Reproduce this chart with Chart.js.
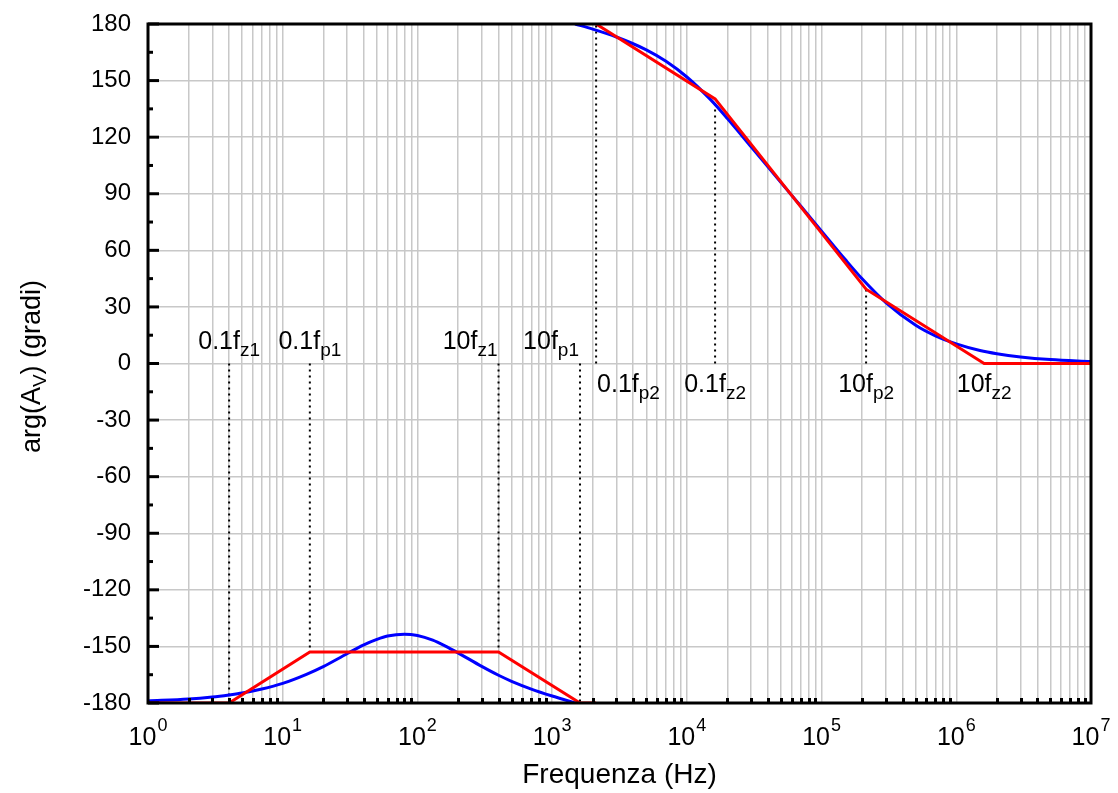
<!DOCTYPE html>
<html><head><meta charset="utf-8">
<script src="https://cdn.jsdelivr.net/npm/chart.js@4/dist/chart.umd.min.js"></script>
<style>html,body{margin:0;padding:0;background:#fff}</style>
</head><body>
<canvas id="c" width="1118" height="793"></canvas>
<script>
// ---- data ----
const freqLow   = [1,2,3,4,5,7,10,15,20,30,40,50,60,80,100,130,160,200,300,400,500,700,1000,1200,1480];
const phaseLow  = [-178.9,-177.9,-176.8,-175.7,-174.7,-172.6,-169.6,-164.8,-160.7,-153.9,-149.2,-146.3,-144.5,-143.5,-144.2,-146.7,-149.7,-153.4,-160.6,-165.3,-168.5,-172.6,-176.3,-178.0,-180.0];
const freqHigh  = [1480,2000,3000,5000,7000,1e4,1.5e4,2e4,3e4,5e4,7e4,1e5,1.5e5,2e5,3e5,5e5,7e5,1e6,1.5e6,2e6,3e6,5e6,1e7];
const phaseHigh = [180,177.3,173.1,166.3,160.2,151.9,139.9,129.9,114.9,95.9,83.5,70.2,55.1,44.9,32.3,20.3,14.7,10.4,6.9,5.2,3.5,2.1,1.0];
const asymLowFreq   = [1,4,15.9,400,1610,2120];
const asymLowPhase  = [-180,-180,-153,-153,-180,-180];
const asymHighFreq  = [2120,16200,214000,1610000,1e7];
const asymHighPhase = [180,140.3,39.4,0,0];
const markerFreq  = [4,15.9,400,1610,2120,16200,214000,1610000];
const markerEnd   = [-180,-153,-153,-180,180,140.3,39.4,0];
const markerMain  = ['0.1f','0.1f','10f','10f','0.1f','0.1f','10f','10f'];
const markerSub   = ['z1','p1','z1','p1','p2','z2','p2','z2'];
const xTickExponents = ['0','1','2','3','4','5','6','7'];
const yTickStep = 30;

// label placement styles (not data)
const markerAlign = ['center','center','right','right','left','center','center','center'];
const markerSide  = ['above','above','above','above','below','below','below','below'];

const FONT = '"Liberation Sans", Arial, Helvetica, sans-serif';

const pts = (xs, ys) => xs.map((v, i) => ({x: v, y: ys[i]}));
const datasets = [
  {data: pts(asymLowFreq, asymLowPhase), borderColor: '#ff0000', borderWidth: 3, order: 1},
  {data: pts(asymHighFreq, asymHighPhase), borderColor: '#ff0000', borderWidth: 3, order: 1},
  {data: pts(freqLow, phaseLow), borderColor: '#0000ff', borderWidth: 3, cubicInterpolationMode: 'monotone', order: 2},
  {data: pts(freqHigh, phaseHigh), borderColor: '#0000ff', borderWidth: 3, cubicInterpolationMode: 'monotone', order: 2},
];
markerFreq.forEach((f, i) => {
  if (markerEnd[i] !== 0) {
    datasets.push({data: [{x: f, y: 0}, {x: f, y: markerEnd[i]}], borderColor: '#000', borderWidth: 2, borderDash: [2, 4], order: 3});
  }
});
datasets.forEach(d => { d.pointRadius = 0; d.fill = false; });

const decorations = {
  id: 'decorations',
  afterDatasetsDraw(chart) {
    const {ctx, chartArea: a, scales: {x, y}} = chart;
    ctx.save();
    ctx.strokeStyle = '#000';
    ctx.lineWidth = 3;
    // y ticks (major + minor), inside
    for (let v = -180; v <= 180; v += yTickStep) {
      const py = y.getPixelForValue(v);
      ctx.beginPath(); ctx.moveTo(a.left, py); ctx.lineTo(a.left + 11, py); ctx.stroke();
      if (v < 180) {
        const pm = y.getPixelForValue(v + yTickStep / 2);
        ctx.beginPath(); ctx.moveTo(a.left, pm); ctx.lineTo(a.left + 5, pm); ctx.stroke();
      }
    }
    // x minor ticks, inside bottom
    x.ticks.forEach(t => {
      const m = t.value / Math.pow(10, Math.floor(Math.log10(t.value) + 1e-9));
      if (Math.abs(m - 1) < 1e-6) return;
      const px = Math.round(x.getPixelForValue(t.value));
      ctx.fillStyle = '#000';
      ctx.fillRect(px - 1, a.bottom - 5, 3, 5);
    });
    // frame
    ctx.lineWidth = 3;
    ctx.strokeRect(a.left, a.top, a.right - a.left, a.bottom - a.top);
    ctx.restore();
  },
  afterDraw(chart) {
    const {ctx, chartArea: a, scales: {x, y}} = chart;
    ctx.save();
    ctx.fillStyle = '#000';
    ctx.textBaseline = 'alphabetic';
    // x tick labels 10^n
    xTickExponents.forEach(e => {
      const px = x.getPixelForValue(Math.pow(10, +e));
      ctx.font = '25px ' + FONT;
      const w1 = ctx.measureText('10').width;
      ctx.font = '18px ' + FONT;
      const w2 = ctx.measureText(e).width;
      const sx = px - (w1 + w2 + 1) / 2;
      ctx.font = '25px ' + FONT;
      ctx.fillText('10', sx, 745);
      ctx.font = '18px ' + FONT;
      ctx.fillText(e, sx + w1 + 1, 731);
    });
    // x title
    ctx.font = '28px ' + FONT;
    ctx.textAlign = 'center';
    ctx.fillText('Frequenza (Hz)', (a.left + a.right) / 2, 783);
    // y title with subscript (rotated)
    ctx.save();
    ctx.translate(40, (a.top + a.bottom) / 2 + 3);
    ctx.rotate(-Math.PI / 2);
    ctx.textAlign = 'left';
    const p1 = 'arg(A', sub = 'V', p2 = ') (gradi)';
    ctx.font = '27px ' + FONT; const wa = ctx.measureText(p1).width; const wc = ctx.measureText(p2).width;
    ctx.font = '19px ' + FONT; const wb = ctx.measureText(sub).width;
    let sx = -(wa + wb + wc) / 2;
    ctx.font = '27px ' + FONT; ctx.fillText(p1, sx, 0);
    ctx.font = '19px ' + FONT; ctx.fillText(sub, sx + wa, 6);
    ctx.font = '27px ' + FONT; ctx.fillText(p2, sx + wa + wb, 0);
    ctx.restore();
    // marker labels
    const y0 = y.getPixelForValue(0);
    ctx.textAlign = 'left';
    markerFreq.forEach((f, i) => {
      const px = x.getPixelForValue(f);
      ctx.font = '25px ' + FONT; const w1 = ctx.measureText(markerMain[i]).width;
      ctx.font = '19px ' + FONT; const w2 = ctx.measureText(markerSub[i]).width;
      const w = w1 + w2;
      let sx;
      if (markerAlign[i] === 'center') sx = px - w / 2;
      else if (markerAlign[i] === 'right') sx = px - w - 1;
      else sx = px + 1;
      const by = markerSide[i] === 'above' ? y0 - 15 : y0 + 28;
      ctx.font = '25px ' + FONT; ctx.fillText(markerMain[i], sx, by);
      ctx.font = '19px ' + FONT; ctx.fillText(markerSub[i], sx + w1, by + 7);
    });
    ctx.restore();
  }
};

new Chart(document.getElementById('c'), {
  type: 'line',
  data: {datasets},
  options: {
    responsive: false,
    animation: false,
    devicePixelRatio: 1,
    layout: {padding: {left: 0, top: 24, right: 27, bottom: 0}},
    plugins: {legend: {display: false}, tooltip: {enabled: false}},
    elements: {line: {tension: 0}},
    scales: {
      x: {
        type: 'logarithmic', min: 1, max: 1e7,
        afterBuildTicks(scale) {
          const ticks = [];
          for (let e = 0; e < 7; e++) for (let m = 1; m <= 9; m++) ticks.push({value: m * Math.pow(10, e)});
          ticks.push({value: 1e7});
          scale.ticks = ticks;
        },
        afterFit(scale) { scale.height = 90; scale.paddingLeft = 0; scale.paddingRight = 0; },
        ticks: {display: false},
        grid: {color: '#c8c8c8', lineWidth: 1.5, drawTicks: false},
        border: {display: false}
      },
      y: {
        type: 'linear', min: -180, max: 180,
        afterFit(scale) { scale.width = 148; scale.paddingTop = 0; scale.paddingBottom = 0; },
        ticks: {stepSize: yTickStep, color: '#000', font: {family: FONT, size: 24}, padding: 17},
        grid: {color: '#c8c8c8', lineWidth: 1.5, drawTicks: false},
        border: {display: false}
      }
    }
  },
  plugins: [decorations]
});
</script>
</body></html>
